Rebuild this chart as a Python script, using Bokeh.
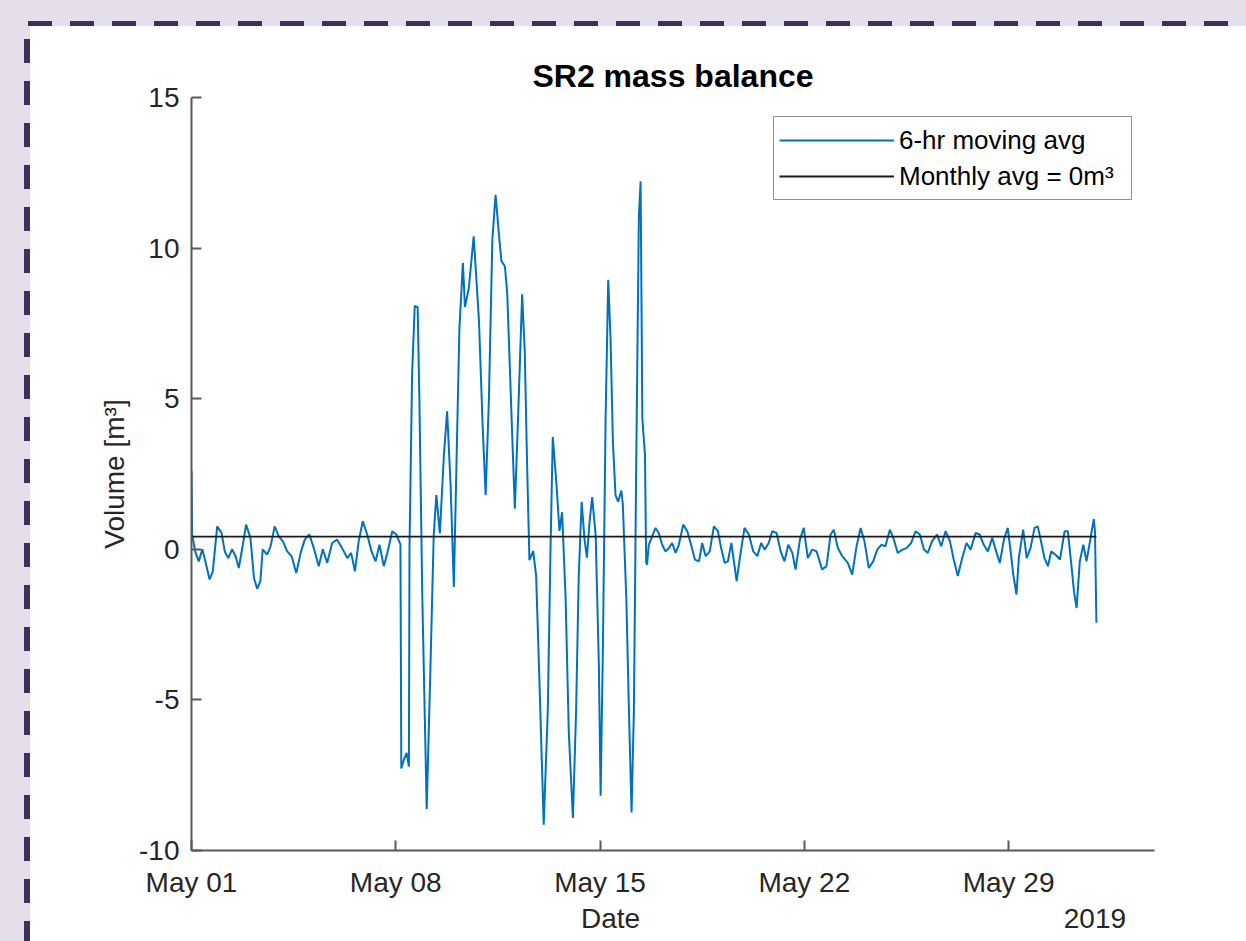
from datetime import datetime, timedelta
from bokeh.plotting import figure
from bokeh.models import Range1d, FixedTicker, DatetimeTickFormatter, DatetimeAxis
from bokeh.embed import file_html
from bokeh.resources import INLINE

# ---------------- data ----------------
start_date = datetime(2019, 5, 1)

# time since May 01 00:00, in days
days = [0.00, 0.02, 0.14, 0.25, 0.37, 0.46, 0.62, 0.73, 0.88, 1.03, 1.14, 1.26, 1.39, 1.51,
        1.62, 1.76, 1.87, 2.02, 2.14, 2.25, 2.36, 2.44, 2.59, 2.71, 2.85, 2.99, 3.13, 3.28,
        3.43, 3.59, 3.74, 3.88, 4.04, 4.19, 4.36, 4.50, 4.65, 4.82, 4.99, 5.16, 5.34, 5.47,
        5.60, 5.73, 5.87, 6.02, 6.17, 6.31, 6.44, 6.59, 6.71, 6.88, 7.02, 7.16,
        7.19, 7.28, 7.37, 7.45, 7.47, 7.56, 7.65, 7.75, 7.81, 7.91, 8.06, 8.19, 8.30, 8.39,
        8.51, 8.65, 8.76, 8.88, 8.99, 9.08, 9.18, 9.30, 9.37, 9.50, 9.67, 9.85, 9.98, 10.08,
        10.19, 10.31, 10.42, 10.53, 10.62, 10.74, 10.82, 10.97, 11.08, 11.20, 11.33, 11.42,
        11.50, 11.58, 11.71, 11.81, 11.93, 12.07, 12.21, 12.30, 12.38, 12.50, 12.61, 12.70,
        12.82, 12.93, 13.07, 13.18, 13.27, 13.37, 13.47, 13.55, 13.64, 13.73, 13.85, 13.96,
        14.02, 14.10, 14.19, 14.28, 14.36, 14.44, 14.53, 14.62, 14.73, 14.78, 14.90, 14.99,
        15.08, 15.16, 15.24, 15.33, 15.39, 15.45, 15.54, 15.58, 15.61,
        15.67, 15.90, 16.01, 16.13, 16.24, 16.36, 16.47, 16.59, 16.70, 16.85, 16.99, 17.12,
        17.25, 17.39, 17.50, 17.62, 17.76, 17.90, 18.04, 18.15, 18.27, 18.38, 18.50, 18.68,
        18.79, 18.95, 19.10, 19.25, 19.39, 19.52, 19.64, 19.78, 19.90, 20.05, 20.19, 20.32,
        20.45, 20.59, 20.70, 20.85, 20.98, 21.12, 21.27, 21.42, 21.61, 21.76, 21.90, 22.01,
        22.15, 22.30, 22.49, 22.64, 22.79, 22.93, 23.06, 23.21, 23.36, 23.50, 23.64, 23.78,
        23.93, 24.07, 24.20, 24.36, 24.50, 24.66, 24.81, 24.96, 25.10, 25.23, 25.38, 25.55,
        25.69, 25.84, 25.99, 26.12, 26.26, 26.41, 26.56, 26.70, 26.87, 27.01, 27.15, 27.29,
        27.44, 27.59, 27.70, 27.84, 27.97, 28.07, 28.16, 28.27, 28.35, 28.50, 28.62, 28.75,
        28.89, 29.00, 29.10, 29.23, 29.35, 29.46, 29.61, 29.76, 29.92, 30.03, 30.15, 30.24,
        30.33, 30.44, 30.56, 30.67, 30.81, 30.92, 30.96, 31.01]

# 6-hr moving average of the volume, m^3
volume = [2.60, 0.49, -0.12, -0.40, 0.00, -0.34, -1.00, -0.73, 0.76, 0.54, -0.07, -0.29, 0.00, -0.23,
          -0.62, 0.15, 0.82, 0.38, -0.95, -1.31, -1.06, 0.00, -0.18, 0.10, 0.76, 0.43, 0.27, -0.07,
          -0.23, -0.79, -0.12, 0.32, 0.49, 0.04, -0.56, 0.00, -0.45, 0.21, 0.32, 0.04, -0.29, -0.12,
          -0.73, 0.27, 0.93, 0.49, -0.07, -0.40, 0.15, -0.56, -0.12, 0.60, 0.49, 0.16,
          -7.28, -6.98, -6.76, -7.21, 0.01, 5.82, 8.08, 8.05, 4.93, -1.62, -8.62, -3.86, 0.46, 1.80,
          0.53, 3.14, 4.58, 2.10, -1.25, 2.84, 7.31, 9.51, 8.05, 8.65, 10.39, 7.61, 4.03, 1.80,
          4.93, 10.29, 11.77, 10.51, 9.57, 9.39, 8.50, 4.33, 1.35, 4.63, 8.47, 6.56,
          2.84, -0.36, -0.06, -0.88, -4.60, -9.14, -5.35, -0.14, 3.73, 2.25, 0.61, 1.23,
          -1.62, -6.09, -8.92, -5.35, -0.88, 1.58, 0.31, -0.28, 0.91, 1.73, 0.46, -3.86,
          -8.18, -3.12, 4.33, 8.95, 7.01, 3.59, 1.80, 1.58, 1.95, 1.50, -1.62, -5.35,
          -8.74, -5.35, 2.84, 11.03, 12.22, 4.33, 3.14, -0.43, -0.51,
          0.15, 0.71, 0.54, 0.15, -0.07, 0.04, 0.21, -0.12, 0.15, 0.82, 0.60, 0.15,
          -0.34, -0.40, 0.21, -0.23, -0.07, 0.76, 0.60, 0.04, -0.45, -0.40, 0.21, -1.06,
          -0.29, 0.71, 0.49, -0.07, -0.23, 0.21, -0.01, 0.21, 0.60, 0.54, -0.07, -0.40,
          0.15, -0.12, -0.67, 0.32, 0.71, -0.29, -0.01, -0.07, -0.67, -0.56, 0.49, 0.65,
          0.04, -0.23, -0.45, -0.84, 0.10, 0.71, 0.27, -0.62, -0.40, -0.01, 0.15, 0.10,
          0.65, 0.32, -0.12, -0.01, 0.04, 0.21, 0.60, 0.49, -0.01, -0.12, 0.27, 0.49,
          0.10, 0.60, 0.27, -0.34, -0.89, -0.29, 0.21, -0.01, 0.54, 0.49, 0.15, -0.07,
          0.38, -0.12, -0.45, 0.32, 0.71, -0.07, -0.84, -1.50, -0.29, 0.65, -0.29, 0.04,
          0.71, 0.76, 0.32, -0.29, -0.56, -0.07, -0.18, -0.34, 0.60, 0.60, -0.51, -1.39,
          -1.95, -0.40, 0.15, -0.40, 0.38, 1.00, 0.60, -2.44]

monthly_avg = 0.42
avg_days = [0.0, 31.01]

y_ticks = [-10, -5, 0, 5, 10, 15]
y_tick_labels = ["-10", "-5", "0", "5", "10", "15"]
tick_dates = [datetime(2019, 5, 1), datetime(2019, 5, 8), datetime(2019, 5, 15),
              datetime(2019, 5, 22), datetime(2019, 5, 29)]
x_end = datetime(2019, 6, 3)

series_label = "6-hr moving avg"
avg_label = "Monthly avg = 0m\u00b3"
title_text = "SR2 mass balance"
x_label = "Date"
y_label = "Volume [m\u00b3]"
year_label = "2019"
# where the two lower texts sit along the time axis
x_label_at = datetime(2019, 5, 15, 8, 40)
year_label_at = datetime(2019, 5, 31, 23, 0)

# ---------------- figure ----------------
FONT = "Liberation Sans"
TXT = "#262626"
AX = "#595959"

times = [start_date + timedelta(days=d) for d in days]
avg_times = [start_date + timedelta(days=d) for d in avg_days]
epoch = datetime(1970, 1, 1)


def to_ms(t):
    return int(round((t - epoch).total_seconds() * 1000.0))


tick_ms = [to_ms(t) for t in tick_dates]

p = figure(x_axis_type="datetime",
           frame_width=963, frame_height=753,
           min_border_left=191, min_border_top=97, min_border_right=86, min_border_bottom=85,
           x_range=Range1d(start_date, x_end), y_range=Range1d(-10, 15),
           output_backend="svg", toolbar_location=None, title=title_text)

p.border_fill_color = None
p.background_fill_color = "white"
p.outline_line_color = None
p.xgrid.visible = False
p.ygrid.visible = False

p.line(times, volume, line_color="#0072BD", line_width=2, legend_label=series_label)
p.line(avg_times, [monthly_avg, monthly_avg], line_color="#1a1a1a", line_width=1.8,
       legend_label=avg_label)

# title
p.title.text_font = FONT
p.title.text_font_size = "32px"
p.title.text_font_style = "bold"
p.title.text_color = "#000000"
p.title.align = "center"
p.title.standoff = 8

# axes
for ax in (p.xaxis[0], p.yaxis[0]):
    ax.axis_line_color = AX
    ax.axis_line_width = 2
    ax.major_tick_line_color = AX
    ax.major_tick_line_width = 2
    ax.major_tick_in = 10
    ax.major_tick_out = 0
    ax.minor_tick_in = 0
    ax.minor_tick_out = 0
    ax.major_label_text_font = FONT
    ax.major_label_text_font_size = "28px"
    ax.major_label_text_color = TXT
    ax.axis_label_text_font = FONT
    ax.axis_label_text_font_size = "28px"
    ax.axis_label_text_color = TXT
    ax.axis_label_text_font_style = "normal"

p.xaxis.ticker = FixedTicker(ticks=tick_ms)
p.xaxis.formatter = DatetimeTickFormatter(days="%b %d", months="%b %d", hours="%b %d",
                                          years="%b %d")
p.xaxis.major_label_standoff = 16

p.yaxis.ticker = FixedTicker(ticks=y_ticks)
p.yaxis.major_label_overrides = {t: s for t, s in zip(y_ticks, y_tick_labels)}
p.yaxis.major_label_standoff = 12
p.yaxis.axis_label = y_label
p.yaxis.axis_label_standoff = 6

# lower text row: "Date" and the year, on a second (line-less) time axis below the first
lx = to_ms(x_label_at)
ly = to_ms(year_label_at)
low_axis = DatetimeAxis(ticker=FixedTicker(ticks=[lx, ly]),
                        major_label_overrides={lx: x_label, ly: year_label},
                        axis_line_color=None, major_tick_line_color=None,
                        minor_tick_line_color=None,
                        major_tick_in=0, major_tick_out=0, minor_tick_in=0, minor_tick_out=0,
                        major_label_standoff=2,
                        major_label_text_font=FONT, major_label_text_font_size="28px",
                        major_label_text_color=TXT)
p.add_layout(low_axis, "below")

# legend
lg = p.legend[0]
lg.location = (582, 650)
lg.margin = 0
lg.padding = 5
lg.spacing = 0
lg.glyph_width = 115
lg.glyph_height = 36
lg.label_height = 36
lg.label_width = 227
lg.label_standoff = 5
lg.label_text_font = FONT
lg.label_text_font_size = "26px"
lg.label_text_color = "#000000"
lg.border_line_color = TXT
lg.border_line_width = 1.5
lg.background_fill_color = "white"
lg.background_fill_alpha = 1.0

page_css = """{% block postamble %}
<style>
html, body { margin: 0 !important; padding: 0 !important; }
html {
  background:
    repeating-linear-gradient(to right, #3f2f5b 0px, #3f2f5b 24px, transparent 24px, transparent 42px) 28px 21px / 1201px 5px no-repeat,
    repeating-linear-gradient(to bottom, #3f2f5b 0px, #3f2f5b 24px, transparent 24px, transparent 42px) 24px 39px / 6px 1000px no-repeat,
    linear-gradient(#ffffff, #ffffff) 30px 26px / 2000px 2000px no-repeat,
    #e4dfeb;
}
body { background: transparent; }
</style>
{% endblock %}"""

open("out.html", "w").write(file_html(p, INLINE, title="SR2 mass balance", template=page_css))
